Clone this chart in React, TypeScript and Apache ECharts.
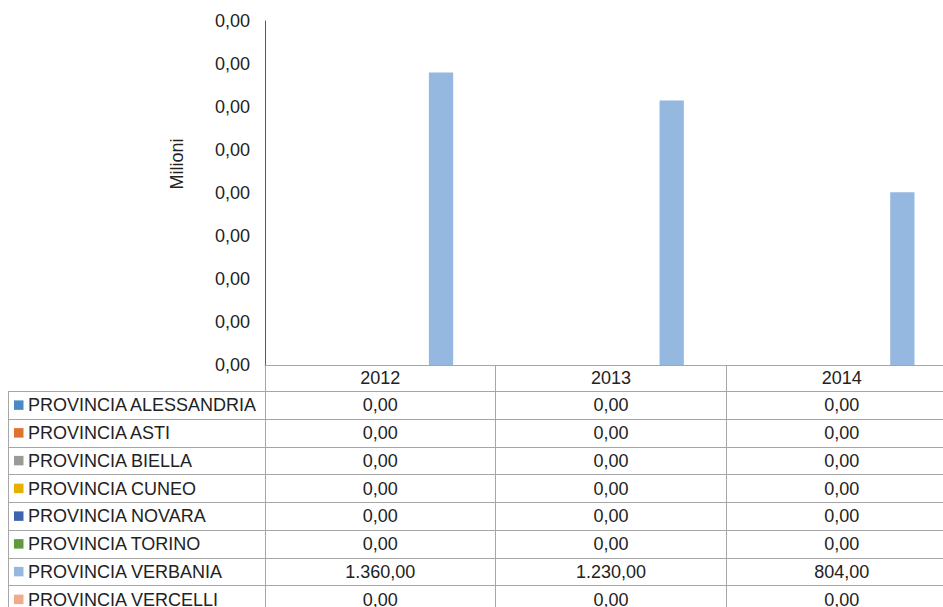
import React, { useEffect, useRef } from "react";
import * as echarts from "echarts";

const YEARS = ["2012", "2013", "2014"];
const PROVINCES = [
  "PROVINCIA ALESSANDRIA",
  "PROVINCIA ASTI",
  "PROVINCIA BIELLA",
  "PROVINCIA CUNEO",
  "PROVINCIA NOVARA",
  "PROVINCIA TORINO",
  "PROVINCIA VERBANIA",
  "PROVINCIA VERCELLI",
];
const ALESSANDRIA = [0, 0, 0];
const ASTI = [0, 0, 0];
const BIELLA = [0, 0, 0];
const CUNEO = [0, 0, 0];
const NOVARA = [0, 0, 0];
const TORINO = [0, 0, 0];
const VERBANIA = [1360, 1230, 804];
const VERCELLI = [0, 0, 0];
const SERIES_VALUES = [ALESSANDRIA, ASTI, BIELLA, CUNEO, NOVARA, TORINO, VERBANIA, VERCELLI];
const COLORS = ["#4a89c4", "#e0722f", "#9a9a9a", "#e8ae00", "#3c64b1", "#5f9b3c", "#95b8e0", "#f2aa8c"];
const Y_MIN = 0;
const Y_MAX = 1600;
const Y_INTERVAL = 200;
const UNIT_LABEL = "Milioni";

const FONT_SIZE = 18;
const FONT = `${FONT_SIZE}px "Liberation Sans", Arial, sans-serif`;
const TEXT_COLOR = "#222";
const LINE_COLOR = "#a6a6a6";

function fmtIt(v: number): string {
  const fixed = Math.abs(v).toFixed(2);
  const [intPart, dec] = fixed.split(".");
  const withDots = intPart.replace(/\B(?=(\d{3})+(?!\d))/g, ".");
  return (v < 0 ? "-" : "") + withDots + "," + dec;
}

export default function App() {
  const ref = useRef<HTMLDivElement>(null);
  useEffect(() => {
    if (!ref.current) return;
    const chart = echarts.init(ref.current, null, { renderer: "svg" });
    chart.setOption({
      animation: false,
      backgroundColor: "#ffffff",
      grid: { left: 265, top: 21, width: 692, height: 344 },
      xAxis: {
        type: "category",
        data: YEARS,
        axisLine: { show: true, lineStyle: { color: LINE_COLOR, width: 1 } },
        axisTick: { show: true, length: 250, lineStyle: { color: LINE_COLOR, width: 1 } },
        axisLabel: {
          show: true,
          margin: 4,
          color: TEXT_COLOR,
          fontFamily: '"Liberation Sans", Arial, sans-serif',
          fontSize: FONT_SIZE,
          lineHeight: 18,
        },
        splitLine: { show: false },
      },
      yAxis: {
        type: "value",
        min: Y_MIN,
        max: Y_MAX,
        interval: Y_INTERVAL,
        axisLine: { show: true, lineStyle: { color: "#595959", width: 1 } },
        axisTick: { show: false },
        splitLine: { show: false },
        axisLabel: {
          margin: 15,
          color: TEXT_COLOR,
          fontFamily: '"Liberation Sans", Arial, sans-serif',
          fontSize: FONT_SIZE,
          formatter: (v: number) => (v / 1e6).toFixed(2).replace(".", ","),
        },
      },
      series: SERIES_VALUES.map((vals, i) => ({
        type: "bar",
        name: PROVINCES[i],
        data: vals,
        barGap: "0%",
        barCategoryGap: "15.8%",
        itemStyle: { color: COLORS[i] },
      })),
    });

    const rowH = 27.75;
    const tableTop = 391;
    const graphics: any[] = [];
    graphics.push({
      type: "text",
      x: 177,
      y: 164,
      rotation: Math.PI / 2,
      style: {
        text: UNIT_LABEL,
        font: FONT,
        fill: TEXT_COLOR,
        textAlign: "center",
        textVerticalAlign: "middle",
      },
    });
    for (let i = 0; i <= PROVINCES.length; i++) {
      const y = Math.round(tableTop + i * rowH) + 0.5;
      graphics.push({
        type: "line",
        shape: { x1: 8, y1: y, x2: 980, y2: y },
        style: { stroke: LINE_COLOR, lineWidth: 1 },
      });
    }
    graphics.push({
      type: "line",
      shape: { x1: 8.5, y1: tableTop + 0.5, x2: 8.5, y2: 620 },
      style: { stroke: LINE_COLOR, lineWidth: 1 },
    });
    PROVINCES.forEach((name, i) => {
      const cy = tableTop + i * rowH + rowH / 2 + 0.5;
      graphics.push({
        type: "rect",
        shape: { x: 14, y: cy - 5, width: 9.5, height: 9.5 },
        style: { fill: COLORS[i] },
      });
      graphics.push({
        type: "text",
        x: 28,
        y: cy,
        style: {
          text: name,
          font: FONT,
          fill: TEXT_COLOR,
          textAlign: "left",
          textVerticalAlign: "middle",
        },
      });
      YEARS.forEach((yr, j) => {
        const px = chart.convertToPixel({ xAxisIndex: 0 }, yr) as number;
        graphics.push({
          type: "text",
          x: px,
          y: cy,
          style: {
            text: fmtIt(SERIES_VALUES[i][j]),
            font: FONT,
            fill: TEXT_COLOR,
            textAlign: "center",
            textVerticalAlign: "middle",
          },
        });
      });
    });
    chart.setOption({ graphic: graphics });
    return () => chart.dispose();
  }, []);
  return (
    <div
      style={{ position: "fixed", left: 0, top: 0, width: 943, height: 607, overflow: "hidden", background: "#fff" }}
    >
      <div ref={ref} style={{ width: 980, height: 607 }} />
    </div>
  );
}
